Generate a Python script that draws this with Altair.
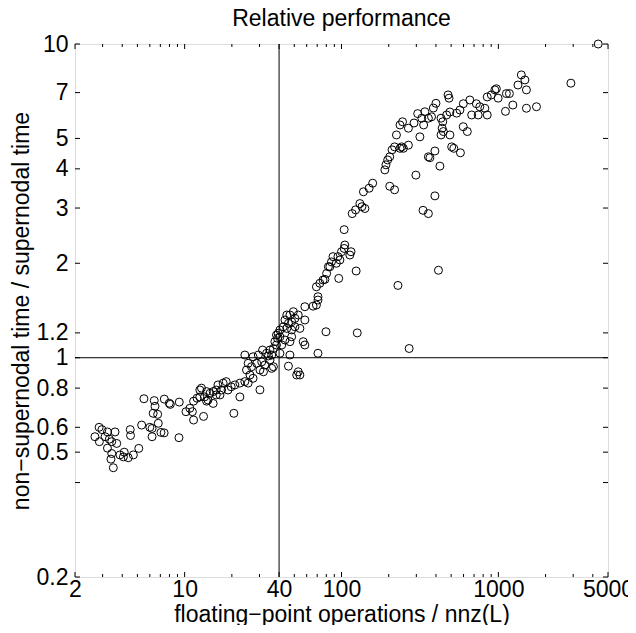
import altair as alt
import pandas as pd

# ---- data ----
x_vals = [2.68, 2.85, 2.86, 2.97, 3.11, 3.22, 3.22, 3.31, 3.43, 3.43, 3.39, 3.51, 3.60, 3.69, 3.87, 4.07, 4.12, 4.37, 4.71, 5.10,
          4.50, 4.52, 5.32, 5.50, 6.00, 6.20, 6.20, 6.30, 6.40, 6.47, 6.73, 6.79, 7.06, 7.40, 7.42, 7.98, 8.10, 9.24, 9.20, 10.2,
          10.8, 11.2, 11.4,
          11.4, 12.0, 12.5, 12.5, 12.8, 13.2, 13.4, 13.8, 13.8, 14.1, 14.5, 15.2, 15.2, 15.9, 15.9, 16.3, 16.8, 17.2, 17.6, 18.4,
          18.9, 19.8, 20.6, 20.9, 22.5, 22.5, 24.2, 24.2, 24.8, 25.4, 25.4, 26.1, 26.7, 27.3, 27.3, 28.8, 29.5, 30.2, 30.2, 31.0,
          31.8, 32.5, 33.3, 35.0, 35.0, 35.9, 36.8, 37.6, 38.5, 39.1, 39.5, 40.5, 31.4, 34.2,
          35.9, 36.8, 38.5, 40.5, 40.5, 41.6, 42.6, 43.6, 43.6, 44.8, 44.8, 45.9, 45.9, 46.9, 46.9, 46.9, 48.1, 48.1, 48.1, 49.3,
          50.5, 50.5, 51.8, 53.0, 53.0, 54.3, 54.3, 57.0, 58.4, 58.4, 58.4, 65.9, 69.2, 69.2, 70.8, 70.8, 70.8, 72.8, 76.3, 78.4,
          79.6, 80.4, 82.5, 84.3, 86.3, 88.3, 92.7, 94.9, 96, 97.7, 100, 104, 105, 113, 115, 124, 126,
          104, 117, 123, 131, 135, 141, 138, 150, 158, 189, 192, 197, 203, 210, 218, 236, 242, 248, 267, 203,
          218, 224, 236, 245, 267, 290, 306, 316, 325, 340, 358, 298, 331, 358, 394, 415, 229, 270, 366, 424,
          394, 520, 573, 597, 634,
          358, 375, 385, 400, 334, 431, 442, 438, 446, 431, 491, 504, 468, 491, 542, 569, 478, 485, 598, 658,
          676, 744, 724, 762, 820, 849, 849, 902, 971, 997, 1125, 1110, 1237, 1333, 1401, 1476, 1510, 1510, 1750, 1176,
          950, 2900, 4330]
y_vals = [0.56, 0.60, 0.54, 0.59, 0.56, 0.58, 0.515, 0.55, 0.54, 0.495, 0.475, 0.446, 0.58, 0.533, 0.49, 0.483, 0.50, 0.48, 0.49, 0.514,
          0.59, 0.565, 0.61, 0.74, 0.60, 0.595, 0.56, 0.665, 0.73, 0.70, 0.66, 0.618, 0.578, 0.576, 0.738, 0.716, 0.71, 0.722, 0.556, 0.673,
          0.69, 0.673, 0.633,
          0.727, 0.743, 0.75, 0.789, 0.80, 0.65, 0.75, 0.78, 0.727, 0.733, 0.77, 0.78, 0.715, 0.789, 0.761, 0.819, 0.761, 0.789, 0.83, 0.839,
          0.789, 0.808, 0.665, 0.819, 0.83, 0.75, 0.839, 1.02, 0.914, 0.96, 0.83, 0.881, 0.936, 1.007, 0.86, 0.96, 1.02, 0.914, 0.79, 0.97,
          0.902, 0.948, 1.033, 1.058, 0.983, 0.925, 1.07, 1.125, 1.181, 1.153, 1.196, 1.033, 1.058, 1.013,
          1.02, 0.936, 1.098, 1.226, 1.166, 1.098, 1.255, 1.319, 1.139, 1.368, 1.24, 1.287, 0.94, 1.368, 1.125, 1.02, 1.302, 1.226, 1.166, 1.402,
          1.335, 1.255, 0.881, 1.368, 0.902, 1.24, 0.881, 1.125, 1.454, 1.319, 1.098, 1.46, 1.683, 1.472, 1.565, 1.527, 1.033, 1.727, 1.769, 1.777,
          1.21, 1.857, 1.95, 1.95, 2.02, 2.1, 2.0, 2.1, 1.79, 2.049, 2.177, 2.23, 2.287, 2.125, 2.177, 1.89, 1.2,
          2.56, 2.88, 2.96, 3.1, 3.03, 2.99, 3.38, 3.47, 3.6, 3.97, 4.12, 4.27, 4.37, 4.6, 4.7, 4.65, 4.7, 4.65, 4.76, 3.52,
          3.43, 5.13, 5.52, 5.65, 5.39, 5.6, 6.0, 5.06, 5.8, 6.08, 4.37, 3.82, 2.95, 2.88, 3.28, 1.9, 1.7, 1.07, 4.34, 4.08,
          4.56, 4.65, 4.5, 5.45, 5.26,
          5.8, 5.86, 6.25, 6.47, 5.52, 5.8, 5.65, 5.39, 5.26, 5.13, 5.13, 4.7, 5.94, 6.07, 6.02, 6.16, 6.88, 6.72, 6.45, 6.63,
          5.94, 5.94, 6.45, 6.31, 6.24, 5.94, 6.78, 6.88, 7.2, 6.72, 6.95, 6.1, 6.39, 7.4, 7.97, 7.68, 7.14, 6.24, 6.31, 6.95,
          7.14, 7.5, 10]

x_major = [2, 10, 40, 100, 1000, 5000]
x_minor = [3, 4, 5, 6, 7, 8, 9, 20, 30, 50, 60, 70, 80, 90, 200, 300, 400, 500, 600, 700, 800, 900, 2000, 3000, 4000]
y_ticks = [0.2, 0.4, 0.5, 0.6, 0.8, 1, 1.2, 2, 3, 4, 5, 7, 10]
y_labels = [0.2, 0.5, 0.6, 0.8, 1, 1.2, 2, 3, 4, 5, 7, 10]
ref_x = [40]
ref_y = [1]

title_text = "Relative performance"
x_title = "floating\u2212point operations / nnz(L)"
y_title = "non\u2212supernodal time / supernodal time"

FONT = "Liberation Sans"
W = H = 533
MAJ = 5
MIN = 3

xs = alt.Scale(type="log", domain=[2, 5000], nice=False)
ys = alt.Scale(type="log", domain=[0.2, 10], nice=False)

pts = pd.DataFrame({"x": x_vals, "y": y_vals})

x_axis = alt.Axis(values=x_major, format="~g", title=x_title, titleY=44, titleBaseline="alphabetic",
                  labelPadding=1, titleFontSize=23)
y_axis = alt.Axis(values=y_labels, format="~g", title=y_title, titleX=-54, titleY=H / 2, titleAngle=270,
                  titleBaseline="middle", titleAlign="center", labelPadding=7, titleFontSize=23)

points = alt.Chart(pts).mark_point(shape="circle", filled=False, color="black", size=64,
                                   strokeWidth=1, opacity=1).encode(
    x=alt.X("x:Q", scale=xs, axis=x_axis),
    y=alt.Y("y:Q", scale=ys, axis=y_axis),
)

vline = alt.Chart(pd.DataFrame({"x": ref_x})).mark_rule(color="black", strokeWidth=1).encode(
    x=alt.X("x:Q", scale=xs))
hline = alt.Chart(pd.DataFrame({"y": ref_y})).mark_rule(color="black", strokeWidth=1).encode(
    y=alt.Y("y:Q", scale=ys))

xmaj = pd.DataFrame({"x": x_major})
xmin = pd.DataFrame({"x": x_minor})
ytk = pd.DataFrame({"y": y_ticks})

def xt(df, y0, y1):
    return alt.Chart(df).mark_rule(color="black", strokeWidth=1).encode(
        x=alt.X("x:Q", scale=xs), y=alt.value(y0), y2=alt.value(y1))

def yt(df, x0, x1):
    return alt.Chart(df).mark_rule(color="black", strokeWidth=1).encode(
        y=alt.Y("y:Q", scale=ys), x=alt.value(x0), x2=alt.value(x1))

ticks = [xt(xmaj, H, H - MAJ), xt(xmaj, 0, MAJ), xt(xmin, H, H - MIN), xt(xmin, 0, MIN),
         yt(ytk, 0, MAJ), yt(ytk, W, W - MAJ)]

chart = alt.layer(points, vline, hline, *ticks).properties(
    width=W, height=H,
    title=alt.TitleParams(text=title_text, font=FONT, fontSize=23, fontWeight="normal",
                          color="black", anchor="middle", offset=2),
    autosize=alt.AutoSizeParams(type="none"),
    padding={"left": 67, "top": 36, "right": 20, "bottom": 48},
).configure_view(stroke="black", strokeWidth=1).configure(background="white").configure_axis(
    ticks=False, tickSize=0, domain=False, grid=False,
    labelFont=FONT, labelFontSize=23, labelColor="black", labelOverlap=False, labelFlush=False,
    titleFont=FONT, titleFontSize=23, titleFontWeight="normal", titleColor="black",
)

chart.save("out.html", embed_options={"renderer": "svg", "actions": False})
